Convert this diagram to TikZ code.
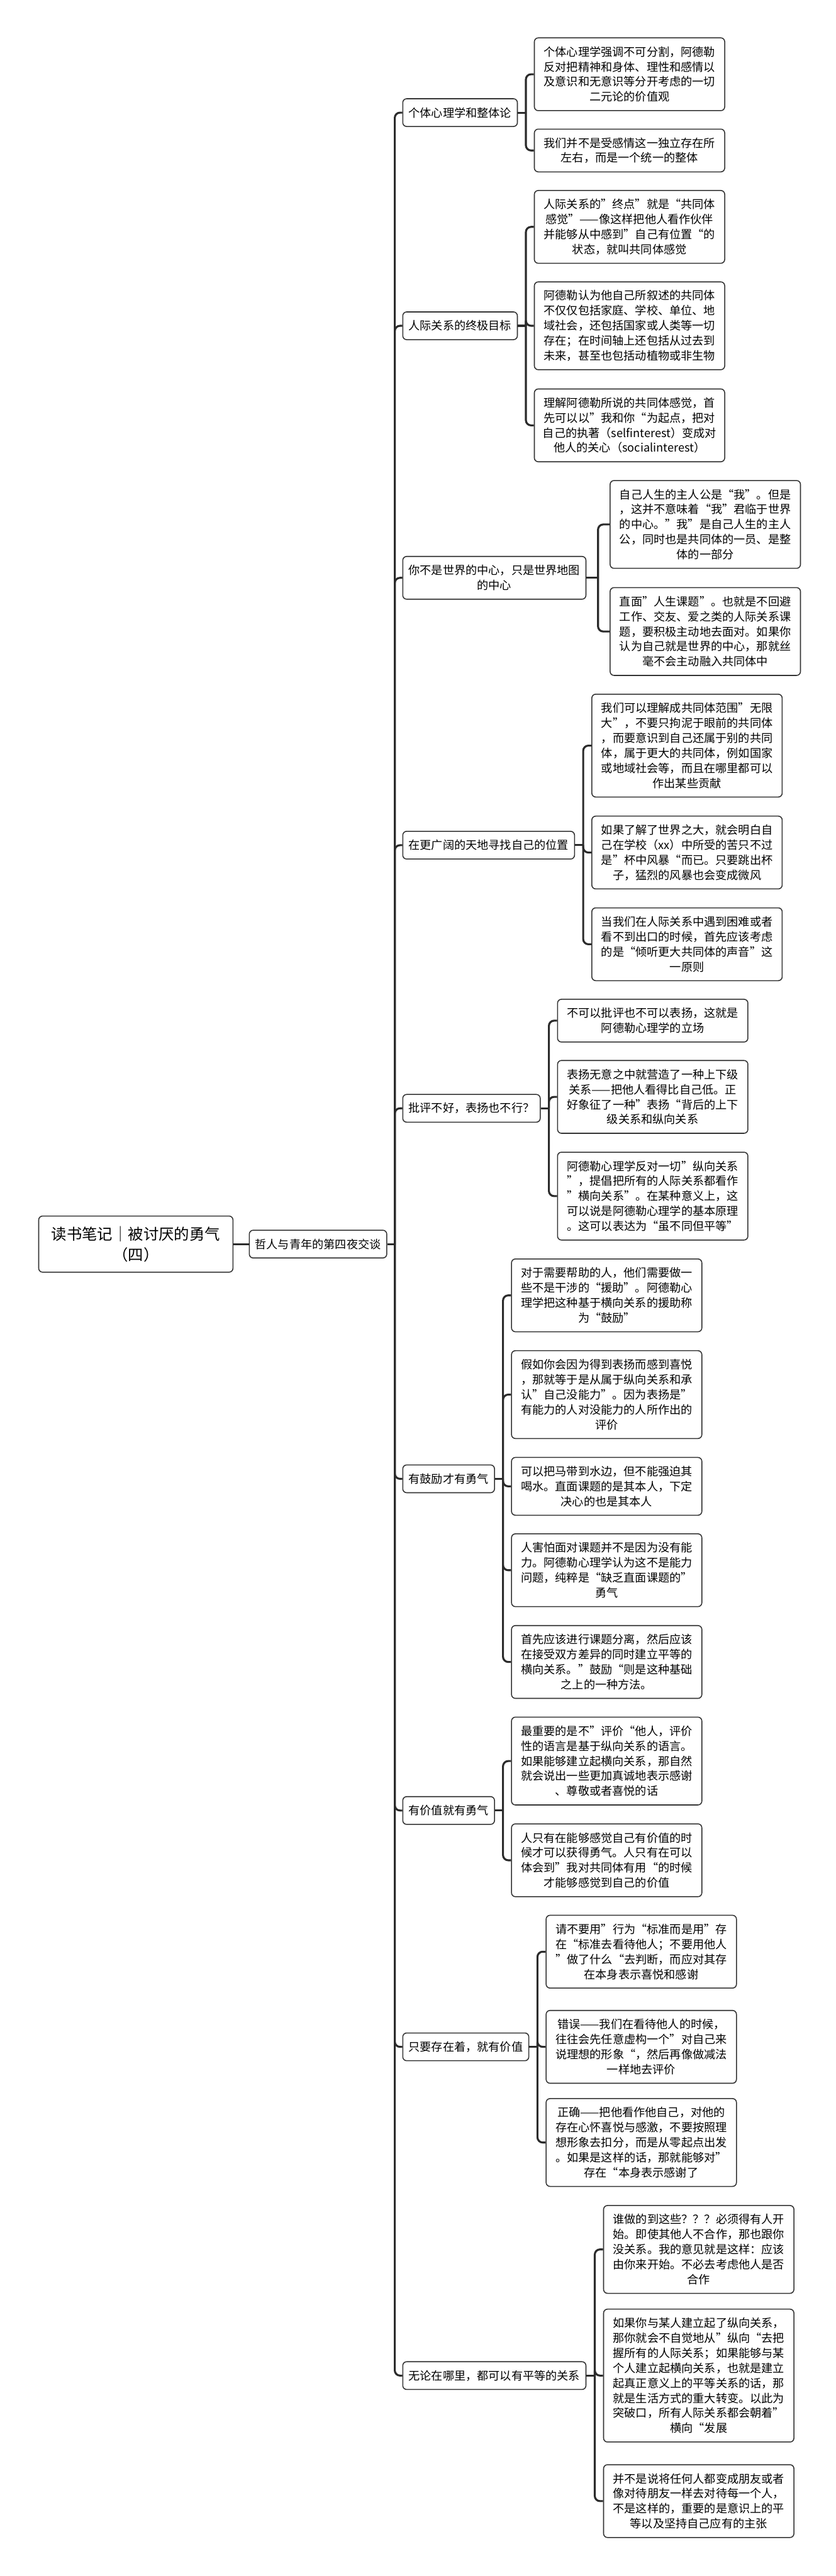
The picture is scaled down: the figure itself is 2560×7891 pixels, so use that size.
\documentclass[tikz,border=0pt]{standalone}
\usepackage{fontspec}
\setmainfont{Noto Sans CJK SC}
\definecolor{linec}{HTML}{2B2B2B}
\definecolor{boxc}{HTML}{333333}
\tikzset{
  conn/.style={line width=1.5pt, draw=linec},
  rbox/.style={draw=boxc, line width=0.75pt, rounded corners=3pt, fill=white, align=center,
    font=\fontsize{8.75pt}{11.5pt}\selectfont, inner xsep=4.5pt, inner ysep=1pt, anchor=west},
  leaf/.style={rbox, minimum width=145.75pt, minimum height={11.5pt*#1+9.75pt}},
  topic/.style={rbox, minimum height={11.5pt*#1+9.75pt}},
  rootbox/.style={rbox, font=\fontsize{11.75pt}{15.75pt}\selectfont, minimum width=148.75pt, minimum height=43pt},
}
\begin{document}
\begin{tikzpicture}[x=0.25pt,y=-0.25pt]
\useasboundingbox[fill=white] (0,0) rectangle (2560,7891);

% root and second level
\node[rootbox] (root) at (117,3811) {读书笔记｜被讨厌的勇气\\（四）};
\node[topic=1] (talk) at (762,3811) {哲人与青年的第四夜交谈};

% topics
\node[topic=1] (pA) at (1232,345) {个体心理学和整体论};
\node[topic=1] (pB) at (1232,998) {人际关系的终极目标};
\node[topic=2] (pC) at (1232,1770) {你不是世界的中心，只是世界地图\\的中心};
\node[topic=1] (pD) at (1232,2589) {在更广阔的天地寻找自己的位置};
\node[topic=1] (pE) at (1232,3395) {批评不好，表扬也不行？};
\node[topic=1] (pF) at (1232,4530) {有鼓励才有勇气};
\node[topic=1] (pG) at (1232,5546) {有价值就有勇气};
\node[topic=1] (pH) at (1232,6270) {只要存在着，就有价值};
\node[topic=1] (pI) at (1232,7277) {无论在哪里，都可以有平等的关系};

% A
\node[leaf=4] (cA1) at (1635,227.5) {个体心理学强调不可分割，阿德勒\\反对把精神和身体、理性和感情以\\及意识和无意识等分开考虑的一切\\二元论的价值观};
\node[leaf=2] (cA2) at (1635,461) {我们并不是受感情这一独立存在所\\左右，而是一个统一的整体};
% B
\node[leaf=4] (cB1) at (1635,695) {人际关系的”终点”就是“共同体\\感觉”——像这样把他人看作伙伴\\并能够从中感到”自己有位置“的\\状态，就叫共同体感觉};
\node[leaf=5] (cB2) at (1635,998) {阿德勒认为他自己所叙述的共同体\\不仅仅包括家庭、学校、单位、地\\域社会，还包括国家或人类等一切\\存在；在时间轴上还包括从过去到\\未来，甚至也包括动植物或非生物};
\node[leaf=4] (cB3) at (1635,1303) {理解阿德勒所说的共同体感觉，首\\先可以以”我和你“为起点，把对\\自己的执著（selfinterest）变成对\\他人的关心（socialinterest）};
% C
\node[leaf=5] (cC1) at (1867,1606.5) {自己人生的主人公是“我”。但是\\，这并不意味着“我”君临于世界\\的中心。”我”是自己人生的主人\\公，同时也是共同体的一员、是整\\体的一部分};
\node[leaf=5] (cC2) at (1867,1934.5) {直面”人生课题”。也就是不回避\\工作、交友、爱之类的人际关系课\\题，要积极主动地去面对。如果你\\认为自己就是世界的中心，那就丝\\毫不会主动融入共同体中};
% D
\node[leaf=6] (cD1) at (1811,2284) {我们可以理解成共同体范围”无限\\大”，不要只拘泥于眼前的共同体\\，而要意识到自己还属于别的共同\\体，属于更大的共同体，例如国家\\或地域社会等，而且在哪里都可以\\作出某些贡献};
\node[leaf=4] (cD2) at (1811,2611.5) {如果了解了世界之大，就会明白自\\己在学校（xx）中所受的苦只不过\\是”杯中风暴“而已。只要跳出杯\\子，猛烈的风暴也会变成微风};
\node[leaf=4] (cD3) at (1811,2892.5) {当我们在人际关系中遇到困难或者\\看不到出口的时候，首先应该考虑\\的是“倾听更大共同体的声音”这\\一原则};
% E
\node[leaf=2] (cE1) at (1706,3126.5) {不可以批评也不可以表扬，这就是\\阿德勒心理学的立场};
\node[leaf=4] (cE2) at (1706,3360) {表扬无意之中就营造了一种上下级\\关系——把他人看得比自己低。正\\好象征了一种”表扬“背后的上下\\级关系和纵向关系};
\node[leaf=5] (cE3) at (1706,3664) {阿德勒心理学反对一切”纵向关系\\”，提倡把所有的人际关系都看作\\”横向关系”。在某种意义上，这\\可以说是阿德勒心理学的基本原理\\。这可以表达为“虽不同但平等”};
% F
\node[leaf=4] (cF1) at (1565,3968) {对于需要帮助的人，他们需要做一\\些不是干涉的“援助”。阿德勒心\\理学把这种基于横向关系的援助称\\为“鼓励”};
\node[leaf=5] (cF2) at (1565,4272) {假如你会因为得到表扬而感到喜悦\\，那就等于是从属于纵向关系和承\\认”自己没能力”。因为表扬是”\\有能力的人对没能力的人所作出的\\评价};
\node[leaf=3] (cF3) at (1565,4553) {可以把马带到水边，但不能强迫其\\喝水。直面课题的是其本人，下定\\决心的也是其本人};
\node[leaf=4] (cF4) at (1565,4810) {人害怕面对课题并不是因为没有能\\力。阿德勒心理学认为这不是能力\\问题，纯粹是“缺乏直面课题的”\\勇气};
\node[leaf=4] (cF5) at (1565,5091) {首先应该进行课题分离，然后应该\\在接受双方差异的同时建立平等的\\横向关系。”鼓励“则是这种基础\\之上的一种方法。};
% G
\node[leaf=5] (cG1) at (1565,5394.5) {最重要的是不”评价“他人，评价\\性的语言是基于纵向关系的语言。\\如果能够建立起横向关系，那自然\\就会说出一些更加真诚地表示感谢\\、尊敬或者喜悦的话};
\node[leaf=4] (cG2) at (1565,5698.5) {人只有在能够感觉自己有价值的时\\候才可以获得勇气。人只有在可以\\体会到”我对共同体有用“的时候\\才能够感觉到自己的价值};
% H
\node[leaf=4] (cH1) at (1671,5978.5) {请不要用”行为“标准而是用”存\\在“标准去看待他人；不要用他人\\”做了什么“去判断，而应对其存\\在本身表示喜悦和感谢};
\node[leaf=4] (cH2) at (1671,6270) {错误——我们在看待他人的时候，\\往往会先任意虚构一个”对自己来\\说理想的形象“，然后再像做减法\\一样地去评价};
\node[leaf=5] (cH3) at (1671,6563) {正确——把他看作他自己，对他的\\存在心怀喜悦与感激，不要按照理\\想形象去扣分，而是从零起点出发\\。如果是这样的话，那就能够对”\\存在“本身表示感谢了};
% I
\node[leaf=5] (cI1) at (1847,6890.5) {谁做的到这些？？？必须得有人开\\始。即使其他人不合作，那也跟你\\没关系。我的意见就是这样：应该\\由你来开始。不必去考虑他人是否\\合作};
\node[leaf=8] (cI2) at (1847,7277) {如果你与某人建立起了纵向关系，\\那你就会不自觉地从”纵向“去把\\握所有的人际关系；如果能够与某\\个人建立起横向关系，也就是建立\\起真正意义上的平等关系的话，那\\就是生活方式的重大转变。以此为\\突破口，所有人际关系都会朝着”\\横向“发展};
\node[leaf=4] (cI3) at (1847,7661.5) {并不是说将任何人都变成朋友或者\\像对待朋友一样去对待每一个人，\\不是这样的，重要的是意识上的平\\等以及坚持自己应有的主张};

% connectors
\draw[conn] (root.east) -- (talk.west);
\path (talk.east) -- (talk.east -| pA.west) coordinate[pos=0.5] (jT);
\draw[conn] (talk.east) -- (jT);
\foreach \p in {pA,pB,pC,pD,pE,pF,pG,pH,pI}
  \draw[conn, rounded corners=4pt] (jT) |- (\p.west);

\path (pA.east) -- (pA.east -| cA1.west) coordinate[pos=0.5] (jA);
\draw[conn] (pA.east) -- (jA);
\foreach \c in {cA1,cA2} \draw[conn, rounded corners=4pt] (jA) |- (\c.west);

\path (pB.east) -- (pB.east -| cB1.west) coordinate[pos=0.5] (jB);
\draw[conn] (pB.east) -- (jB);
\foreach \c in {cB1,cB2,cB3} \draw[conn, rounded corners=4pt] (jB) |- (\c.west);

\path (pC.east) -- (pC.east -| cC1.west) coordinate[pos=0.5] (jC);
\draw[conn] (pC.east) -- (jC);
\foreach \c in {cC1,cC2} \draw[conn, rounded corners=4pt] (jC) |- (\c.west);

\path (pD.east) -- (pD.east -| cD1.west) coordinate[pos=0.5] (jD);
\draw[conn] (pD.east) -- (jD);
\foreach \c in {cD1,cD2,cD3} \draw[conn, rounded corners=4pt] (jD) |- (\c.west);

\path (pE.east) -- (pE.east -| cE1.west) coordinate[pos=0.5] (jE);
\draw[conn] (pE.east) -- (jE);
\foreach \c in {cE1,cE2,cE3} \draw[conn, rounded corners=4pt] (jE) |- (\c.west);

\path (pF.east) -- (pF.east -| cF1.west) coordinate[pos=0.5] (jF);
\draw[conn] (pF.east) -- (jF);
\foreach \c in {cF1,cF2,cF3,cF4,cF5} \draw[conn, rounded corners=4pt] (jF) |- (\c.west);

\path (pG.east) -- (pG.east -| cG1.west) coordinate[pos=0.5] (jG);
\draw[conn] (pG.east) -- (jG);
\foreach \c in {cG1,cG2} \draw[conn, rounded corners=4pt] (jG) |- (\c.west);

\path (pH.east) -- (pH.east -| cH1.west) coordinate[pos=0.5] (jH);
\draw[conn] (pH.east) -- (jH);
\foreach \c in {cH1,cH2,cH3} \draw[conn, rounded corners=4pt] (jH) |- (\c.west);

\path (pI.east) -- (pI.east -| cI1.west) coordinate[pos=0.5] (jI);
\draw[conn] (pI.east) -- (jI);
\foreach \c in {cI1,cI2,cI3} \draw[conn, rounded corners=4pt] (jI) |- (\c.west);
\end{tikzpicture}
\end{document}
